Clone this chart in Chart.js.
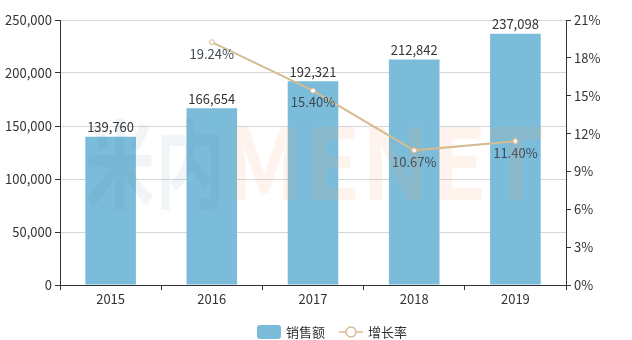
<!DOCTYPE html>
<html>
<head>
<meta charset="utf-8">
<script src="https://cdn.jsdelivr.net/npm/chart.js@4/dist/chart.umd.min.js"></script>
<style>
  html, body { margin:0; padding:0; background:#fff; }
  #wrap { width:632px; height:340px; }
</style>
</head>
<body>
<div id="wrap"><canvas id="chart" width="632" height="340"></canvas></div>
<script>
// chart data
var years = ["2015", "2016", "2017", "2018", "2019"];
var sales = [139760, 166654, 192321, 212842, 237098];
var growth = [null, 19.24, 15.40, 10.67, 11.40];
var seriesNames = ["销售额", "增长率"];

var barColor = "#7abcd9";
var lineColor = "#d6bb92";
var fontFamily = "'Microsoft YaHei', 'Noto Sans CJK SC', 'Noto Sans', sans-serif";

function fmtNum(v){
  return v.toLocaleString("en-US");
}

//Value labels above bars and below line points
var valueLabels = {
  id: "valueLabels",
  afterDatasetsDraw: function(chart){
    var ctx = chart.ctx;
    ctx.save();
    ctx.font = "13px " + fontFamily;
    ctx.textAlign = "center";

    chart.getDatasetMeta(0).data.forEach(function(bar, i){
      ctx.fillStyle = "#333";
      ctx.textBaseline = "bottom";
      ctx.fillText(fmtNum(sales[i]), bar.x, bar.y - 3);
    });

    chart.getDatasetMeta(1).data.forEach(function(pt, i){
      if(growth[i] === null) return;
      ctx.fillStyle = "#3d4a55";
      ctx.textBaseline = "top";
      ctx.fillText(growth[i].toFixed(2) + "%", pt.x, pt.y + 5);
    });
    ctx.restore();
  }
};

//Faint watermark over the plot
var watermark = {
  id: "watermark",
  afterDatasetsDraw: function(chart){
    var ctx = chart.ctx;
    ctx.save();
    ctx.textBaseline = "alphabetic";
    ctx.textAlign = "left";
    ctx.font = "bold 96px " + fontFamily;

    var w1 = ctx.measureText("米内").width;
    ctx.globalAlpha = 0.08;
    ctx.fillStyle = "#5a7f98";
    ctx.setTransform(140 / w1, 0, 0, 1, 85, 0);
    ctx.fillText("米内", 0, 200);

    ctx.setTransform(1, 0, 0, 1, 0, 0);
    var w2 = ctx.measureText("MENET").width;
    ctx.fillStyle = "#f3a36a";
    ctx.globalAlpha = 0.12;
    ctx.setTransform(320 / w2, 0, 0, 1.03, 225, 0);
    ctx.fillText("MENET", 0, 200 / 1.03);
    ctx.restore();
  }
};

//Legend drawn by hand: rounded box for bars, line with ring for the rate
var bottomLegend = {
  id: "bottomLegend",
  afterDraw: function(chart){
    var ctx = chart.ctx;
    var cy = 332;
    ctx.save();
    ctx.font = "13px " + fontFamily;
    ctx.textBaseline = "middle";
    ctx.textAlign = "left";

    ctx.fillStyle = barColor;
    ctx.beginPath();
    ctx.roundRect(257, cy - 7, 24, 14, 3);
    ctx.fill();
    ctx.fillStyle = "#333";
    ctx.fillText(seriesNames[0], 286, cy);

    ctx.strokeStyle = lineColor;
    ctx.lineWidth = 1.5;
    ctx.beginPath();
    ctx.moveTo(339, cy);
    ctx.lineTo(363, cy);
    ctx.stroke();
    ctx.beginPath();
    ctx.arc(351, cy, 5, 0, Math.PI * 2);
    ctx.fillStyle = "#fff";
    ctx.fill();
    ctx.stroke();
    ctx.fillStyle = "#333";
    ctx.fillText(seriesNames[1], 368, cy);
    ctx.restore();
  }
};

new Chart(document.getElementById("chart"), {
  data: {
    labels: years,
    datasets: [
      {
        type: "bar",
        label: seriesNames[0],
        data: sales,
        backgroundColor: barColor,
        yAxisID: "y",
        barPercentage: 0.5,
        categoryPercentage: 1,
        order: 2
      },
      {
        type: "line",
        label: seriesNames[1],
        data: growth,
        borderColor: lineColor,
        borderWidth: 2,
        pointRadius: 2.5,
        pointBorderWidth: 1,
        pointBackgroundColor: "#fff",
        pointBorderColor: lineColor,
        yAxisID: "y1",
        tension: 0,
        order: 1
      }
    ]
  },
  options: {
    responsive: false,
    animation: false,
    layout: { padding: { top: 20, bottom: 35, left: 0, right: 0 } },
    plugins: {
      legend: { display: false },
      tooltip: { enabled: false }
    },
    scales: {
      x: {
        offset: true,
        grid: {
          offset: true,
          drawOnChartArea: false,
          drawTicks: true,
          tickLength: 5,
          color: "#333"
        },
        border: { color: "#333", width: 1 },
        ticks: { color: "#333", font: { family: fontFamily, size: 13 }, padding: 1 },
        afterFit: function(s){ s.height = 20; }
      },
      y: {
        position: "left",
        min: 0,
        max: 250000,
        ticks: {
          stepSize: 50000,
          color: "#333",
          font: { family: fontFamily, size: 13 },
          padding: 3,
          callback: function(v){ return fmtNum(v); }
        },
        grid: { color: "#d6d6d6", tickLength: 5, tickColor: "#333" },
        border: { color: "#333", width: 1 },
        afterFit: function(s){ s.width = 60; }
      },
      y1: {
        position: "right",
        min: 0,
        max: 21,
        ticks: {
          stepSize: 3,
          color: "#333",
          font: { family: fontFamily, size: 13 },
          padding: 3,
          callback: function(v){ return v + "%"; }
        },
        grid: { drawOnChartArea: false, tickLength: 5, color: "#333" },
        border: { color: "#333", width: 1 },
        afterFit: function(s){ s.width = 66; }
      }
    }
  },
  plugins: [valueLabels, watermark, bottomLegend]
});
</script>
</body>
</html>
